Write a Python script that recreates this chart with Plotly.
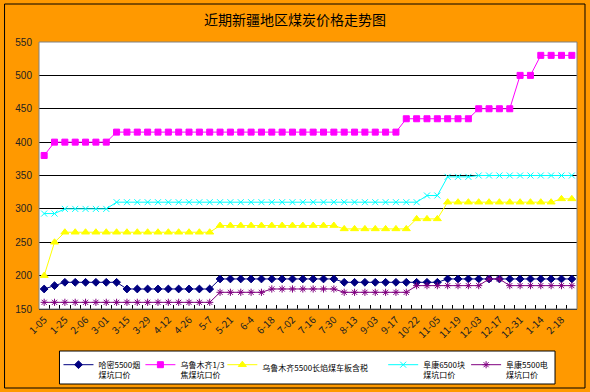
import plotly.graph_objects as go

# ---- data ----
dates = ["1-05","1-15","1-25","1-30","2-06","2-22","3-01","3-08","3-15","3-22",
         "3-29","4-05","4-12","4-19","4-26","4-30","5-7","5-14","5-21","5-28",
         "6-4","6-11","6-18","6-25","7-02","7-09","7-16","7-23","7-30","8-06",
         "8-13","8-27","9-03","9-10","9-17","10-15","10-22","10-29","11-05","11-12",
         "11-19","11-26","12-03","12-10","12-17","12-24","12-31","1-07","1-14","2-11",
         "2-18","2-25"]

hami = [180,185] + [190]*6 + [180]*9 + [195]*12 + [190]*10 + [195]*13
wlmq_jiao = [380] + [400]*6 + [415]*28 + [435]*7 + [450]*4 + [500]*2 + [530]*4
wlmq_5500 = [200,250] + [265]*15 + [275]*12 + [270]*7 + [285]*3 + [310]*11 + [315]*2
fukang_6500 = [293]*2 + [300]*5 + [310]*30 + [320]*2 + [348]*3 + [350]*10
fukang_5500 = [160]*17 + [175]*5 + [180]*7 + [175]*7 + [185]*7 + [195]*2 + [185]*7

names = ["哈密5500烟<br>煤坑口价", "乌鲁木齐1/3<br>焦煤坑口价", "乌鲁木齐5500长焰煤车板含税",
         "阜康6500块<br>煤坑口价", "阜康5500电<br>煤坑口价"]
series = [hami, wlmq_jiao, wlmq_5500, fukang_6500, fukang_5500]
colors = ["#000080", "#FF00FF", "#FFFF00", "#00FFFF", "#800080"]
symbols = ["diamond", "square", "triangle-up", "x-thin-open", "asterisk-open"]
sizes = [6, 6, 7, 6, 6]
legend_left_px = [58, 140, 222, 383, 466]

ticktext = [d if i % 2 == 0 else "" for i, d in enumerate(dates)]

FONT = "Noto Sans CJK SC"
W, H = 590, 392
L, R, T, B = 38.5, 13, 42, 83

pw = W - L - R
ph = H - T - B
def px_x(v):
    return (v - L) / pw
def px_y(v):
    return (H - B - v) / ph

fig = go.Figure()
legend_layouts = {}
for i, (n, s, c, sym, sz, lx) in enumerate(zip(names, series, colors, symbols, sizes, legend_left_px)):
    lname = "legend" if i == 0 else f"legend{i+1}"
    fig.add_trace(go.Scatter(
        x=dates, y=s, name=n, mode="lines+markers",
        line=dict(color=c, width=1),
        marker=dict(symbol=sym, size=sz, color=c, line=dict(color=c, width=1)),
        legend=lname,
    ))
    legend_layouts[lname] = dict(
        orientation="h", x=px_x(lx), y=px_y(353), xanchor="left", yanchor="top",
        bgcolor="rgba(0,0,0,0)", borderwidth=0,
        font=dict(family=FONT, size=8, color="#000000"),
        itemwidth=30, valign="top",
    )

fig.update_layout(
    width=W, height=H,
    margin=dict(l=L, r=R, t=T, b=B, autoexpand=False),
    paper_bgcolor="#FF9900",
    plot_bgcolor="#FFFFFF",
    font=dict(family=FONT, color="#000000", size=10),
    showlegend=True,
    title=dict(text="近期新疆地区煤炭价格走势图", x=0.5, xanchor="center",
               y=1 - 20 / H, yanchor="middle",
               font=dict(family=FONT, size=14, color="#000000")),
    xaxis=dict(
        type="category", automargin=False,
        tickmode="array", tickvals=dates, ticktext=ticktext,
        tickangle=-45, tickson="boundaries",
        ticks="inside", ticklen=4, tickcolor="#000000",
        tickfont=dict(family=FONT, size=10, color="#222222"),
        showgrid=False, showline=True, linecolor="#000000", linewidth=1,
        range=[-0.5, len(dates) - 0.5],
    ),
    yaxis=dict(
        automargin=False,
        range=[150, 550], dtick=50, tick0=150,
        showgrid=True, gridcolor="#000000", gridwidth=1,
        zeroline=False, showline=False,
        ticks="outside", ticklen=4, tickcolor="rgba(0,0,0,0)",
        tickfont=dict(family="Liberation Sans", size=10, color="#222222"),
    ),
    shapes=[
        dict(type="rect", xref="paper", yref="paper",
             x0=px_x(59), x1=px_x(555), y0=px_y(384), y1=px_y(351),
             line=dict(color="#000000", width=1), fillcolor="#FFFFFF", layer="above"),
        dict(type="rect", xref="paper", yref="paper", x0=0, x1=1, y0=0, y1=1,
             line=dict(color="#808080", width=1), layer="above"),
        dict(type="rect", xref="paper", yref="paper",
             x0=px_x(4), x1=px_x(585), y0=px_y(388), y1=px_y(4),
             line=dict(color="#000000", width=1), layer="above"),
    ],
    **legend_layouts,
)

fig.write_html("out.html", config={"displayModeBar": False},
               post_script="document.body.style.margin='0';document.body.style.overflow='hidden';")
